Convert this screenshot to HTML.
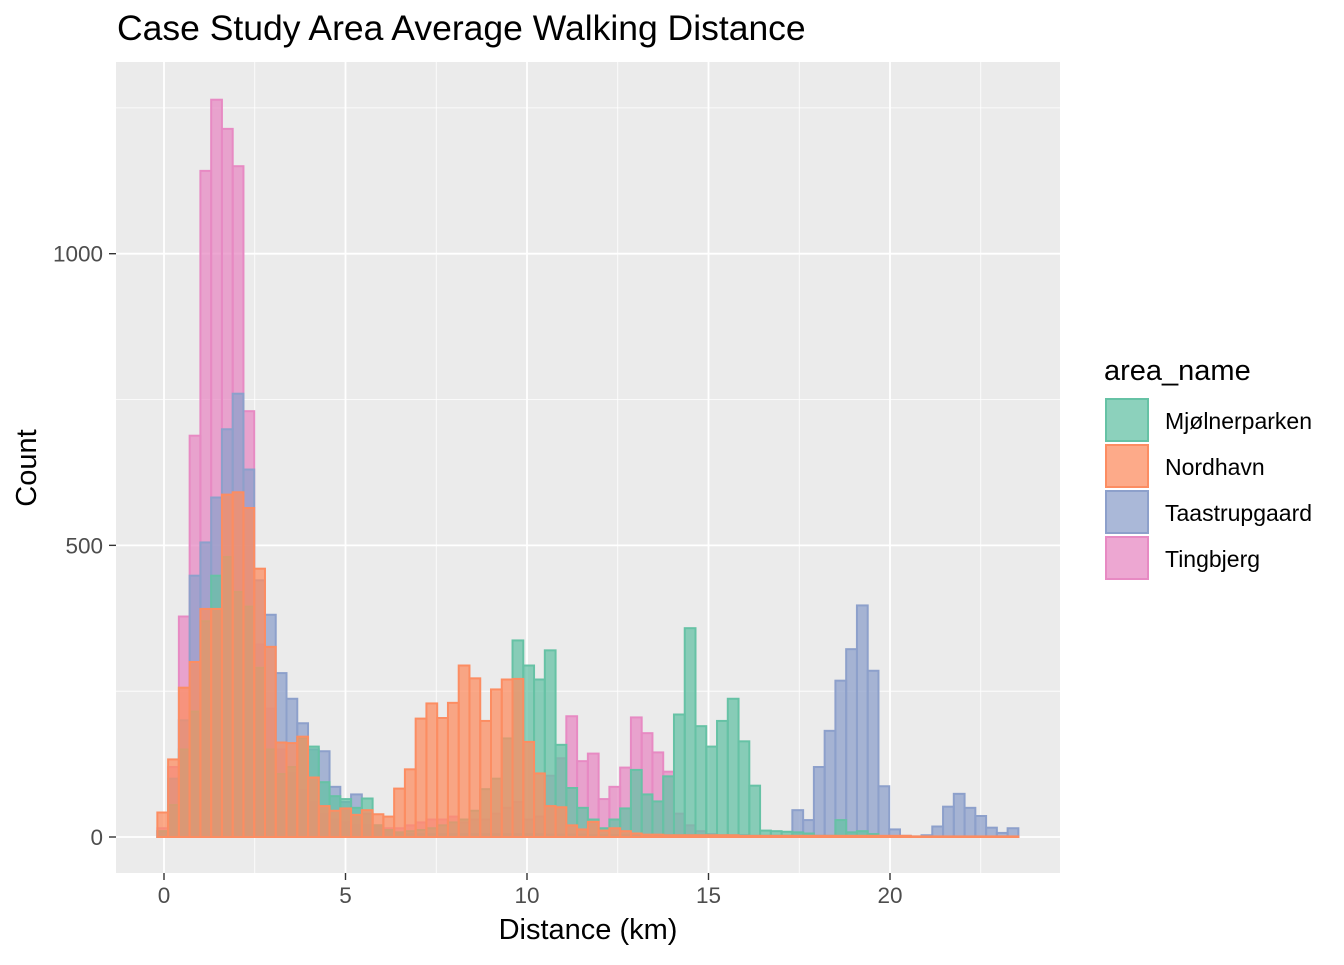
<!DOCTYPE html>
<html><head><meta charset="utf-8"><style>
body{margin:0;background:#fff;}
svg{font-family:"Liberation Sans",Arial,sans-serif;}
</style></head><body>
<svg id="chart" width="1344" height="960" viewBox="0 0 1344 960">
<text x="117" y="40" font-size="35.5" fill="#000">Case Study Area Average Walking Distance</text>
<rect x="116" y="62" width="944" height="811" fill="#ebebeb"/>
<g id="grid"></g>
<g id="bars"></g>
<g id="axes"></g>
<text x="588" y="939" font-size="29" text-anchor="middle">Distance (km)</text>
<text transform="translate(36,468) rotate(-90)" font-size="29" text-anchor="middle">Count</text>
<g id="legend">
<text x="1104" y="380" font-size="29">area_name</text>
</g>
</svg>
<script>
const binWidth = 0.2965;
const binStart = -0.035;
const yTicks = [0, 500, 1000];
const yMinor = [250, 750, 1250];
const xTicks = [0, 5, 10, 15, 20];
const xMinor = [2.5, 7.5, 12.5, 17.5, 22.5];
const seriesNames = ["Mjølnerparken", "Nordhavn", "Taastrupgaard", "Tingbjerg"];
const seriesColors = ["#66C2A5", "#FC8D62", "#8DA0CB", "#E78AC3"];
const mjolnerparken = [10,55,150,215,370,448,480,420,395,290,150,108,120,170,155,94,70,65,50,66,20,12,8,10,12,15,20,25,30,45,82,100,169,337,294,270,320,158,84,50,30,15,30,49,115,73,61,104,210,358,190,155,199,237,164,88,11,10,9,8,6,2,2,29,8,10,5,0,0,0,0,0,0,0,0,0,0,0,0,0];
const nordhavn = [42,133,256,300,391,391,587,591,564,460,326,162,161,172,102,53,45,49,38,46,39,35,83,116,203,229,204,230,294,272,199,253,270,271,163,109,53,51,20,13,26,11,15,10,6,4,4,3,3,3,3,3,3,3,2,2,2,2,2,2,2,2,2,2,2,2,2,2,2,2,1,1,1,1,1,1,1,1,1,1];
const taastrupgaard = [10,100,200,448,505,582,699,760,630,440,381,281,237,195,150,147,86,60,73,40,20,10,6,5,5,5,5,5,5,5,5,5,5,5,5,5,4,4,4,4,3,3,3,3,3,3,3,3,3,3,3,3,3,3,3,2,2,2,2,46,29,120,182,268,322,397,285,87,13,2,1,3,18,52,74,50,36,16,7,15];
const tingbjerg = [15,120,378,688,1142,1264,1214,1150,730,330,220,150,110,80,60,40,30,25,20,20,18,15,15,20,25,30,30,35,25,30,30,40,50,60,30,35,105,135,207,130,143,65,86,119,205,178,145,112,40,20,10,5,0,0,0,0,0,0,0,0,0,0,0,0,0,0,0,0,0,0,0,0,0,0,0,0,0,0,0,0];

const NS = "http://www.w3.org/2000/svg";
function xs(v){ return 164 + v * 36.3; }
function ys(v){ return 837 - v * 0.5833; }
function mk(tag, attrs, parent){ const e = document.createElementNS(NS, tag); for (const k in attrs) e.setAttribute(k, attrs[k]); parent.appendChild(e); return e; }

const grid = document.getElementById('grid');
yMinor.forEach(v => { const l = mk('line', {x1:116, x2:1060, y1:ys(v), y2:ys(v), stroke:'#fff', 'stroke-width':0.8}, grid);

 });
xMinor.forEach(v => { const l = mk('line', {x1:xs(v), x2:xs(v), y1:62, y2:873, stroke:'#fff', 'stroke-width':0.8}, grid);

 });
yTicks.forEach(v => { const l = mk('line', {x1:116, x2:1060, y1:ys(v), y2:ys(v), stroke:'#fff', 'stroke-width':1.8}, grid);

 });
xTicks.forEach(v => { const l = mk('line', {x1:xs(v), x2:xs(v), y1:62, y2:873, stroke:'#fff', 'stroke-width':1.8}, grid);

 });

const barsG = document.getElementById('bars');
const drawOrder = [3, 2, 0, 1];
const allSeries = [mjolnerparken, nordhavn, taastrupgaard, tingbjerg];
drawOrder.forEach(si => {
  const g = mk('g', {}, barsG);
  
  
  allSeries[si].forEach((c, k) => {
    const left = binStart + k * binWidth - binWidth / 2;
    const x0 = xs(left), x1 = xs(left + binWidth);
    const r = mk('rect', {x:x0, y:ys(c), width:x1 - x0, height:ys(0) - ys(c), fill:seriesColors[si], 'fill-opacity':0.75, stroke:seriesColors[si], 'stroke-width':2}, g);
    
    
  });
});

const axes = document.getElementById('axes');
yTicks.forEach(v => {
  const t = mk('line', {x1:109, x2:116, y1:ys(v), y2:ys(v), stroke:'#333', 'stroke-width':1.4}, axes);
  
  
  const tx = mk('text', {x:103, y:ys(v) + 8, 'font-size':22.5, fill:'#4d4d4d', 'text-anchor':'end'}, axes);
  tx.textContent = v;
  
  
});
xTicks.forEach(v => {
  const t = mk('line', {x1:xs(v), x2:xs(v), y1:873, y2:880, stroke:'#333', 'stroke-width':1.4}, axes);
  
  
  const tx = mk('text', {x:xs(v), y:903, 'font-size':22.5, fill:'#4d4d4d', 'text-anchor':'middle'}, axes);
  tx.textContent = v;
  
  
});

const legend = document.getElementById('legend');
seriesNames.forEach((n, i) => {
  const y = 398 + i * 46;
  const r = mk('rect', {x:1106, y:y + 1, width:42, height:42, fill:seriesColors[i], 'fill-opacity':0.75, stroke:seriesColors[i], 'stroke-width':2}, legend);
  
  
  const t = mk('text', {x:1165, y:y + 31, 'font-size':23, fill:'#000'}, legend);
  t.textContent = n;
  
  
});
</script>
</body></html>
